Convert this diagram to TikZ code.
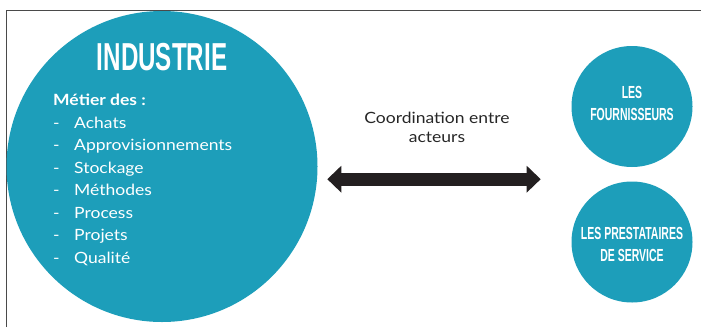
\documentclass[tikz,border=0pt]{standalone}
\usepackage{fontspec}
\setmainfont[FakeStretch=1.13]{Lato}
\newfontfamily\condfont[FakeStretch=0.6]{Liberation Sans}
\newfontfamily\condtitle[FakeStretch=0.62]{Liberation Sans}
\usetikzlibrary{arrows.meta}
\definecolor{teal}{HTML}{1D9EBA}
\definecolor{frame}{HTML}{4A4A4A}
\definecolor{arrowc}{HTML}{231F20}
\tikzset{
  disc/.style={circle, fill=teal, draw=none, inner sep=0pt},
  title/.style={text=white, font={\condtitle\bfseries\fontsize{39}{39}\selectfont}, inner sep=0pt, anchor=base},
  smalltitle/.style={text=white, font={\condfont\bfseries\fontsize{17.5}{22}\selectfont}, inner sep=0pt, anchor=base},
  item/.style={text=white, font={\fontsize{15.5}{22}\selectfont}, inner sep=0pt, anchor=base west},
  body/.style={text=black!85, font={\fontsize{15.5}{19.5}\selectfont}, inner sep=0pt, anchor=base},
}
\begin{document}
\begin{tikzpicture}[x=1pt,y=-1pt]
\useasboundingbox (0,0) rectangle (701,327);
% frame
\coordinate (fb) at (6.5,327);
\coordinate (fc) at (6.5,10.5);
\coordinate (fr) at (701,10.5);
\draw[frame, line width=1.5pt] (fb) -- (fc) -- (fr);
% circles
\node[disc, minimum size=311pt] (ind) at (162,166.5) {};
\node[disc, minimum size=121pt] (four) at (632,106.5) {};
\node[disc, minimum size=121pt] (prest) at (632,242) {};
% texts in big circle
\node[title] (tind) at (162,70) {INDUSTRIE};
\node[item, font={\bfseries\fontsize{15.5}{22}\selectfont}] (metier) at (53,105.5) {Métier des :};
\foreach \t [count=\i] in {Achats,Approvisionnements,Stockage,Méthodes,Process,Projets,Qualité}{
  \node[item] (d\i) at (53,{105.5+22.5*\i}) {-};
  \node[item] (l\i) at (74,{105.5+22.5*\i}) {\t};
}
% small circle labels
\node[smalltitle] (f1) at (632,98) {LES};
\node[smalltitle] (f2) at (632,120) {FOURNISSEURS};
\node[smalltitle] (p1) at (632,239.3) {LES PRESTATAIRES};
\node[smalltitle] (p2) at (632,261) {DE SERVICE};
% arrow
\coordinate (al) at (327.3,179.2);
\coordinate (ar) at (540.7,179.2);
\draw[arrowc, line width=13pt, {Triangle[length=14pt,width=26pt]}-{Triangle[length=14pt,width=26pt]}] (al) -- (ar);
\node[body] (c1) at (437,123.3) {Coordination entre};
\node[body] (c2) at (437,142.8) {acteurs};
\end{tikzpicture}
\end{document}
